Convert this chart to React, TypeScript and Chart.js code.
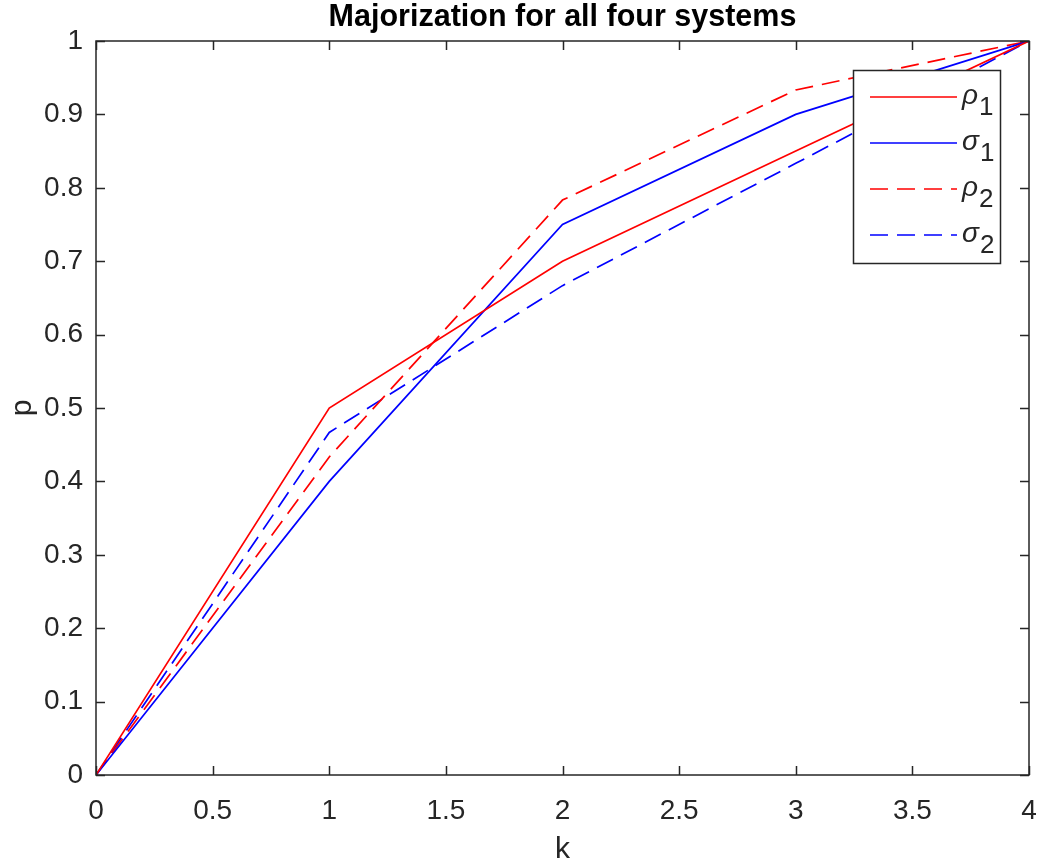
import React, { useEffect, useRef } from 'react';
import { Chart, registerables } from 'chart.js';

Chart.register(...registerables);

const kValues = [0, 1, 2, 3, 4];
const rho1 = [0, 0.5, 0.7, 0.85, 1];
const sigma1 = [0, 0.4, 0.75, 0.9, 1];
const rho2 = [0, 0.4333, 0.7833, 0.9333, 1];
const sigma2 = [0, 0.4667, 0.6667, 0.8333, 1];
const seriesLabels = ['ρ_1', 'σ_1', 'ρ_2', 'σ_2'];
const xTicks = [0, 0.5, 1, 1.5, 2, 2.5, 3, 3.5, 4];
const yTicks = [0, 0.1, 0.2, 0.3, 0.4, 0.5, 0.6, 0.7, 0.8, 0.9, 1];
const titleText = 'Majorization for all four systems';
const xLabel = 'k';
const yLabel = 'p';

const AX = '#262626';
const FONT = '"Liberation Sans", Arial, Helvetica, sans-serif';

const toPoints = (ys: number[]) => kValues.map((k, i) => ({ x: k, y: ys[i] }));

const framePlugin = {
  id: 'matlabFrame',
  afterDatasetsDraw(chart: any) {
    const { ctx, chartArea, scales } = chart;
    const { left, right, top, bottom } = chartArea;
    const tl = 9;
    ctx.save();
    ctx.strokeStyle = AX;
    ctx.lineWidth = 1.5;
    ctx.beginPath();
    scales.x.ticks.forEach((t: any) => {
      const px = Math.round(scales.x.getPixelForValue(t.value)) + 0.5;
      ctx.moveTo(px, bottom);
      ctx.lineTo(px, bottom - tl);
      ctx.moveTo(px, top);
      ctx.lineTo(px, top + tl);
    });
    scales.y.ticks.forEach((t: any) => {
      const py = Math.round(scales.y.getPixelForValue(t.value)) + 0.5;
      ctx.moveTo(left, py);
      ctx.lineTo(left + tl, py);
      ctx.moveTo(right, py);
      ctx.lineTo(right - tl, py);
    });
    ctx.stroke();
    ctx.strokeRect(left, top, right - left, bottom - top);
    ctx.restore();
  },
  afterDraw(chart: any) {
    const { ctx, chartArea } = chart;
    const { left, right } = chartArea;
    ctx.save();
    // title
    ctx.fillStyle = '#000';
    ctx.font = `bold 30.5px ${FONT}`;
    ctx.textAlign = 'center';
    ctx.textBaseline = 'middle';
    ctx.fillText(titleText, (left + right) / 2, 18);

    // legend
    const lx = 853, ly = 70, lw = 147, lh = 193;
    ctx.fillStyle = '#fff';
    ctx.fillRect(lx, ly, lw, lh);
    ctx.strokeStyle = AX;
    ctx.lineWidth = 1.5;
    ctx.strokeRect(lx + 0.5, ly + 0.5, lw, lh);
    chart.data.datasets.forEach((ds: any, i: number) => {
      const ry = ly + 27 + i * 46;
      ctx.strokeStyle = ds.borderColor;
      ctx.lineWidth = ds.borderWidth;
      ctx.setLineDash(ds.borderDash || []);
      ctx.beginPath();
      ctx.moveTo(870, ry);
      ctx.lineTo(957, ry);
      ctx.stroke();
      ctx.setLineDash([]);
      const [sym, sub] = String(ds.label).split('_');
      ctx.fillStyle = AX;
      ctx.textAlign = 'left';
      ctx.textBaseline = 'middle';
      ctx.font = `italic 28px ${FONT}`;
      ctx.fillText(sym, 962, ry - 1);
      const w = ctx.measureText(sym).width;
      ctx.font = `26px ${FONT}`;
      ctx.fillText(sub, 962 + w + 1, ry + 11);
    });
    ctx.restore();
  },
};

export default function App() {
  const ref = useRef<HTMLCanvasElement | null>(null);
  useEffect(() => {
    if (!ref.current) return;
    const mk = (label: string, data: number[], color: string, dash: number[]) => ({
      label,
      data: toPoints(data),
      borderColor: color,
      backgroundColor: color,
      borderWidth: 1.7,
      borderDash: dash,
      pointRadius: 0,
      tension: 0,
      fill: false,
    });
    const chart = new Chart(ref.current, {
      type: 'line',
      data: {
        datasets: [
          mk(seriesLabels[0], rho1, '#ff0000', []),
          mk(seriesLabels[1], sigma1, '#0000ff', []),
          mk(seriesLabels[2], rho2, '#ff0000', [18, 9]),
          mk(seriesLabels[3], sigma2, '#0000ff', [18, 9]),
        ],
      },
      options: {
        responsive: false,
        animation: false,
        layout: { padding: { top: 41, right: 11, left: 0, bottom: 0 } },
        plugins: { legend: { display: false }, title: { display: false }, tooltip: { enabled: false } },
        scales: {
          x: {
            type: 'linear',
            min: 0,
            max: 4,
            afterBuildTicks: (s: any) => { s.ticks = xTicks.map((v) => ({ value: v })); },
            afterFit: (s: any) => { s.height = 93; s.paddingLeft = 0; s.paddingRight = 0; },
            grid: { display: false, drawTicks: false },
            border: { display: false },
            ticks: {
              color: AX,
              font: { family: FONT, size: 28 },
              padding: 19,
              maxRotation: 0,
              autoSkip: false,
              callback: (v: any) => String(Number(Number(v).toFixed(1))),
            },
            title: { display: true, text: xLabel, color: AX, font: { family: FONT, size: 30 }, padding: { top: 0, bottom: 0 } },
          },
          y: {
            type: 'linear',
            min: 0,
            max: 1,
            afterBuildTicks: (s: any) => { s.ticks = yTicks.map((v) => ({ value: v })); },
            afterFit: (s: any) => { s.width = 96; s.paddingTop = 0; s.paddingBottom = 0; },
            grid: { display: false, drawTicks: false },
            border: { display: false },
            ticks: {
              color: AX,
              font: { family: FONT, size: 28 },
              padding: 13,
              autoSkip: false,
              callback: (v: any) => String(Number(Number(v).toFixed(1))),
            },
            title: { display: true, text: yLabel, color: AX, font: { family: FONT, size: 30 }, padding: { top: 5, bottom: 0 } },
          },
        },
      },
      plugins: [framePlugin],
    });
    return () => chart.destroy();
  }, []);
  return (
    <div style={{ position: 'absolute', left: 0, top: 0, width: 1040, height: 868, background: '#fff' }}>
      <canvas ref={ref} width={1040} height={868} />
    </div>
  );
}
